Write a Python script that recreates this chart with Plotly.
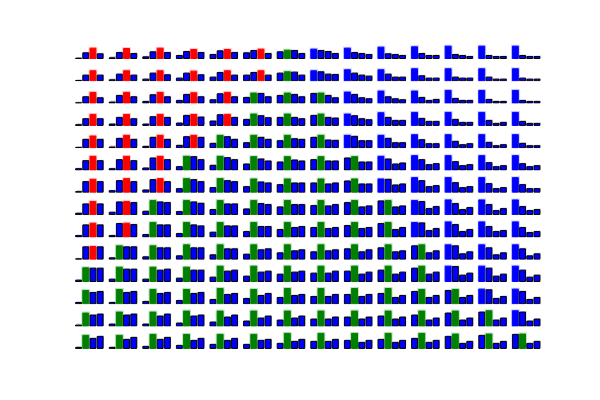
import plotly.graph_objects as go

# ---- data: 14 x 14 grid of small 4-bar charts (rows top->bottom, cols left->right)
categories = [0, 1, 2, 3]

bar0 = [
    [1, 2, 5, 9, 12, 17, 20, 28, 31, 34, 35, 37, 37, 37],
    [1, 3, 5, 8, 11, 17, 23, 30, 33, 33, 36, 36, 36, 36],
    [1, 3, 5, 8, 10, 17, 23, 29, 33, 36, 36, 38, 38, 38],
    [2, 4, 4, 7, 13, 18, 24, 30, 34, 38, 39, 39, 39, 39],
    [1, 2, 4, 7, 13, 15, 21, 31, 37, 37, 39, 39, 39, 39],
    [4, 4, 6, 10, 14, 18, 24, 31, 36, 41, 43, 43, 43, 43],
    [2, 5, 7, 11, 14, 17, 23, 28, 34, 40, 44, 44, 44, 44],
    [4, 7, 10, 9, 15, 17, 23, 27, 36, 41, 42, 44, 44, 44],
    [4, 4, 7, 10, 14, 16, 22, 28, 34, 40, 43, 45, 45, 45],
    [1, 4, 7, 10, 13, 15, 19, 22, 31, 34, 40, 43, 43, 43],
    [4, 7, 7, 10, 13, 16, 22, 25, 31, 34, 40, 46, 46, 46],
    [4, 4, 7, 10, 13, 16, 19, 22, 28, 31, 37, 40, 44, 44],
    [3, 6, 6, 9, 12, 15, 18, 21, 27, 30, 33, 39, 42, 46],
    [3, 3, 6, 9, 12, 12, 15, 21, 24, 27, 30, 36, 39, 42],
]
bar1 = [
    [17, 18, 20, 21, 23, 24, 25, 24, 18, 14, 15, 12, 9, 9],
    [17, 20, 23, 23, 25, 25, 27, 27, 23, 20, 15, 11, 11, 8],
    [19, 23, 25, 26, 28, 30, 30, 30, 26, 19, 17, 14, 11, 8],
    [20, 24, 26, 30, 32, 34, 34, 34, 29, 24, 21, 18, 15, 12],
    [25, 28, 31, 33, 37, 37, 37, 37, 34, 28, 24, 19, 16, 13],
    [28, 31, 36, 41, 41, 40, 40, 40, 40, 33, 31, 25, 22, 19],
    [32, 35, 38, 41, 41, 40, 40, 40, 40, 39, 35, 29, 26, 23],
    [32, 38, 42, 42, 42, 42, 42, 42, 42, 42, 39, 33, 30, 24],
    [36, 40, 43, 43, 43, 43, 43, 43, 43, 43, 42, 37, 31, 28],
    [37, 40, 40, 43, 43, 43, 43, 43, 43, 43, 43, 40, 34, 31],
    [41, 43, 43, 43, 46, 46, 46, 46, 46, 46, 46, 45, 40, 34],
    [40, 43, 43, 43, 46, 43, 46, 46, 46, 46, 43, 43, 42, 37],
    [39, 42, 42, 45, 45, 45, 45, 45, 45, 45, 45, 45, 46, 42],
    [39, 39, 42, 42, 42, 42, 45, 45, 45, 45, 45, 43, 43, 43],
]
bar2 = [
    [31, 30, 31, 27, 27, 28, 24, 21, 15, 12, 9, 9, 6, 6],
    [30, 30, 30, 29, 30, 30, 26, 20, 17, 11, 8, 8, 5, 5],
    [32, 32, 32, 31, 32, 29, 26, 23, 16, 13, 8, 8, 5, 5],
    [33, 33, 33, 33, 33, 29, 24, 24, 20, 15, 12, 9, 6, 6],
    [35, 37, 37, 37, 33, 31, 27, 23, 21, 15, 12, 9, 6, 6],
    [41, 41, 41, 40, 37, 33, 30, 27, 24, 18, 16, 13, 10, 10],
    [39, 41, 41, 38, 35, 31, 28, 25, 25, 22, 17, 14, 11, 11],
    [39, 39, 38, 38, 32, 33, 30, 26, 23, 23, 18, 15, 12, 12],
    [41, 41, 36, 36, 33, 31, 28, 25, 25, 22, 19, 16, 16, 13],
    [38, 37, 34, 34, 31, 28, 25, 25, 22, 22, 19, 16, 13, 10],
    [40, 37, 34, 34, 31, 28, 28, 25, 22, 22, 22, 19, 16, 13],
    [34, 34, 31, 31, 28, 25, 25, 22, 22, 19, 19, 19, 16, 13],
    [33, 33, 30, 30, 27, 24, 24, 21, 21, 21, 18, 18, 18, 15],
    [30, 27, 27, 24, 24, 24, 21, 21, 18, 18, 18, 15, 15, 15],
]
bar3 = [
    [14, 15, 18, 18, 18, 15, 15, 15, 12, 9, 9, 6, 6, 6],
    [17, 17, 18, 18, 17, 17, 17, 19, 14, 11, 8, 8, 5, 5],
    [16, 19, 19, 19, 19, 19, 19, 16, 13, 10, 11, 8, 5, 5],
    [20, 20, 24, 25, 24, 23, 20, 22, 17, 15, 12, 9, 9, 6],
    [25, 25, 25, 31, 25, 25, 25, 22, 21, 15, 12, 12, 9, 6],
    [28, 28, 31, 31, 31, 27, 27, 27, 24, 21, 19, 16, 13, 13],
    [32, 32, 32, 32, 32, 28, 28, 28, 25, 25, 20, 17, 14, 11],
    [32, 36, 36, 34, 32, 30, 30, 30, 26, 26, 24, 21, 18, 15],
    [36, 37, 36, 33, 33, 31, 31, 28, 28, 28, 25, 22, 19, 16],
    [37, 37, 34, 34, 31, 31, 28, 28, 28, 25, 25, 22, 19, 16],
    [40, 37, 37, 34, 34, 31, 31, 31, 28, 28, 28, 25, 22, 19],
    [37, 37, 34, 34, 31, 31, 28, 28, 28, 25, 25, 25, 22, 19],
    [36, 36, 36, 33, 33, 30, 30, 27, 27, 27, 24, 24, 24, 21],
    [36, 33, 33, 30, 30, 27, 27, 27, 24, 24, 24, 21, 21, 21],
]

# ---- styling / layout constants
W, H = 600, 400
N_ROWS, N_COLS = 14, 14
BAR_COLOR = "#0000ff"
HIGHLIGHT = ["#0000ff", "#008000", "#ff0000", "#00bfbf"]
GLOW = ["#cfcfff", "#c2e2c2", "#ffcdcd", "#c8f0f0"]
SHADOW = "#d4d4d4"
BAR_W = 0.82
X_RANGE = [-0.6, 3.6]
X_PX = 7.2           # px per category unit
COL_X0, COL_STEP = 75.6, 33.6     # px, left edge of first bar
ROW_Y0, ROW_STEP = 58.5, 22.3     # px, zero line of each row
Y_RANGE = [-1.5, 52.5]            # 3 value units per px
Y_PX = 1.0 / 3.0
SHADOW_DX, SHADOW_DY = 0.14, 3.0

fig = go.Figure()
layout_axes = {}

for r in range(N_ROWS):
    for c in range(N_COLS):
        k = r * N_COLS + c + 1
        sfx = "" if k == 1 else str(k)
        vals = [bar0[r][c], bar1[r][c], bar2[r][c], bar3[r][c]]
        imax = max(range(4), key=lambda i: vals[i])

        # domains
        left_px = COL_X0 + COL_STEP * c - (-BAR_W / 2 - X_RANGE[0]) * X_PX
        width_px = (X_RANGE[1] - X_RANGE[0]) * X_PX
        zero_px = ROW_Y0 + ROW_STEP * r
        bottom_px = zero_px - Y_RANGE[0] * Y_PX
        top_px = zero_px - Y_RANGE[1] * Y_PX
        layout_axes["xaxis" + sfx] = dict(
            domain=[left_px / W, (left_px + width_px) / W],
            range=X_RANGE, visible=False, fixedrange=True,
            anchor="y" + sfx,
        )
        layout_axes["yaxis" + sfx] = dict(
            domain=[1 - bottom_px / H, 1 - top_px / H],
            range=Y_RANGE, visible=False, fixedrange=True,
            anchor="x" + sfx,
        )

        # shadow
        fig.add_trace(go.Bar(
            x=categories, y=vals, base=SHADOW_DY, width=BAR_W,
            offset=-BAR_W / 2 + SHADOW_DX,
            marker=dict(color=SHADOW, line=dict(width=0)),
            xaxis="x" + sfx, yaxis="y" + sfx, hoverinfo="skip",
        ))
        # glow around the highlighted (largest) bar
        fig.add_trace(go.Bar(
            x=[categories[imax]], y=[vals[imax]], width=BAR_W,
            marker=dict(color=GLOW[imax], line=dict(color=GLOW[imax], width=3)),
            xaxis="x" + sfx, yaxis="y" + sfx, hoverinfo="skip",
        ))
        # main bars: largest bar coloured by its position, others blue with black edge
        colors = [HIGHLIGHT[i] if i == imax else BAR_COLOR for i in range(4)]
        edge = [HIGHLIGHT[i] if i == imax else "#000000" for i in range(4)]
        fig.add_trace(go.Bar(
            x=categories, y=vals, width=BAR_W,
            marker=dict(color=colors, line=dict(color=edge, width=1)),
            xaxis="x" + sfx, yaxis="y" + sfx, hoverinfo="skip",
        ))

fig.update_layout(
    width=W, height=H,
    margin=dict(l=0, r=0, t=0, b=0),
    paper_bgcolor="white", plot_bgcolor="white",
    barmode="overlay", showlegend=False,
    **layout_axes,
)

fig.write_html("out.html")
